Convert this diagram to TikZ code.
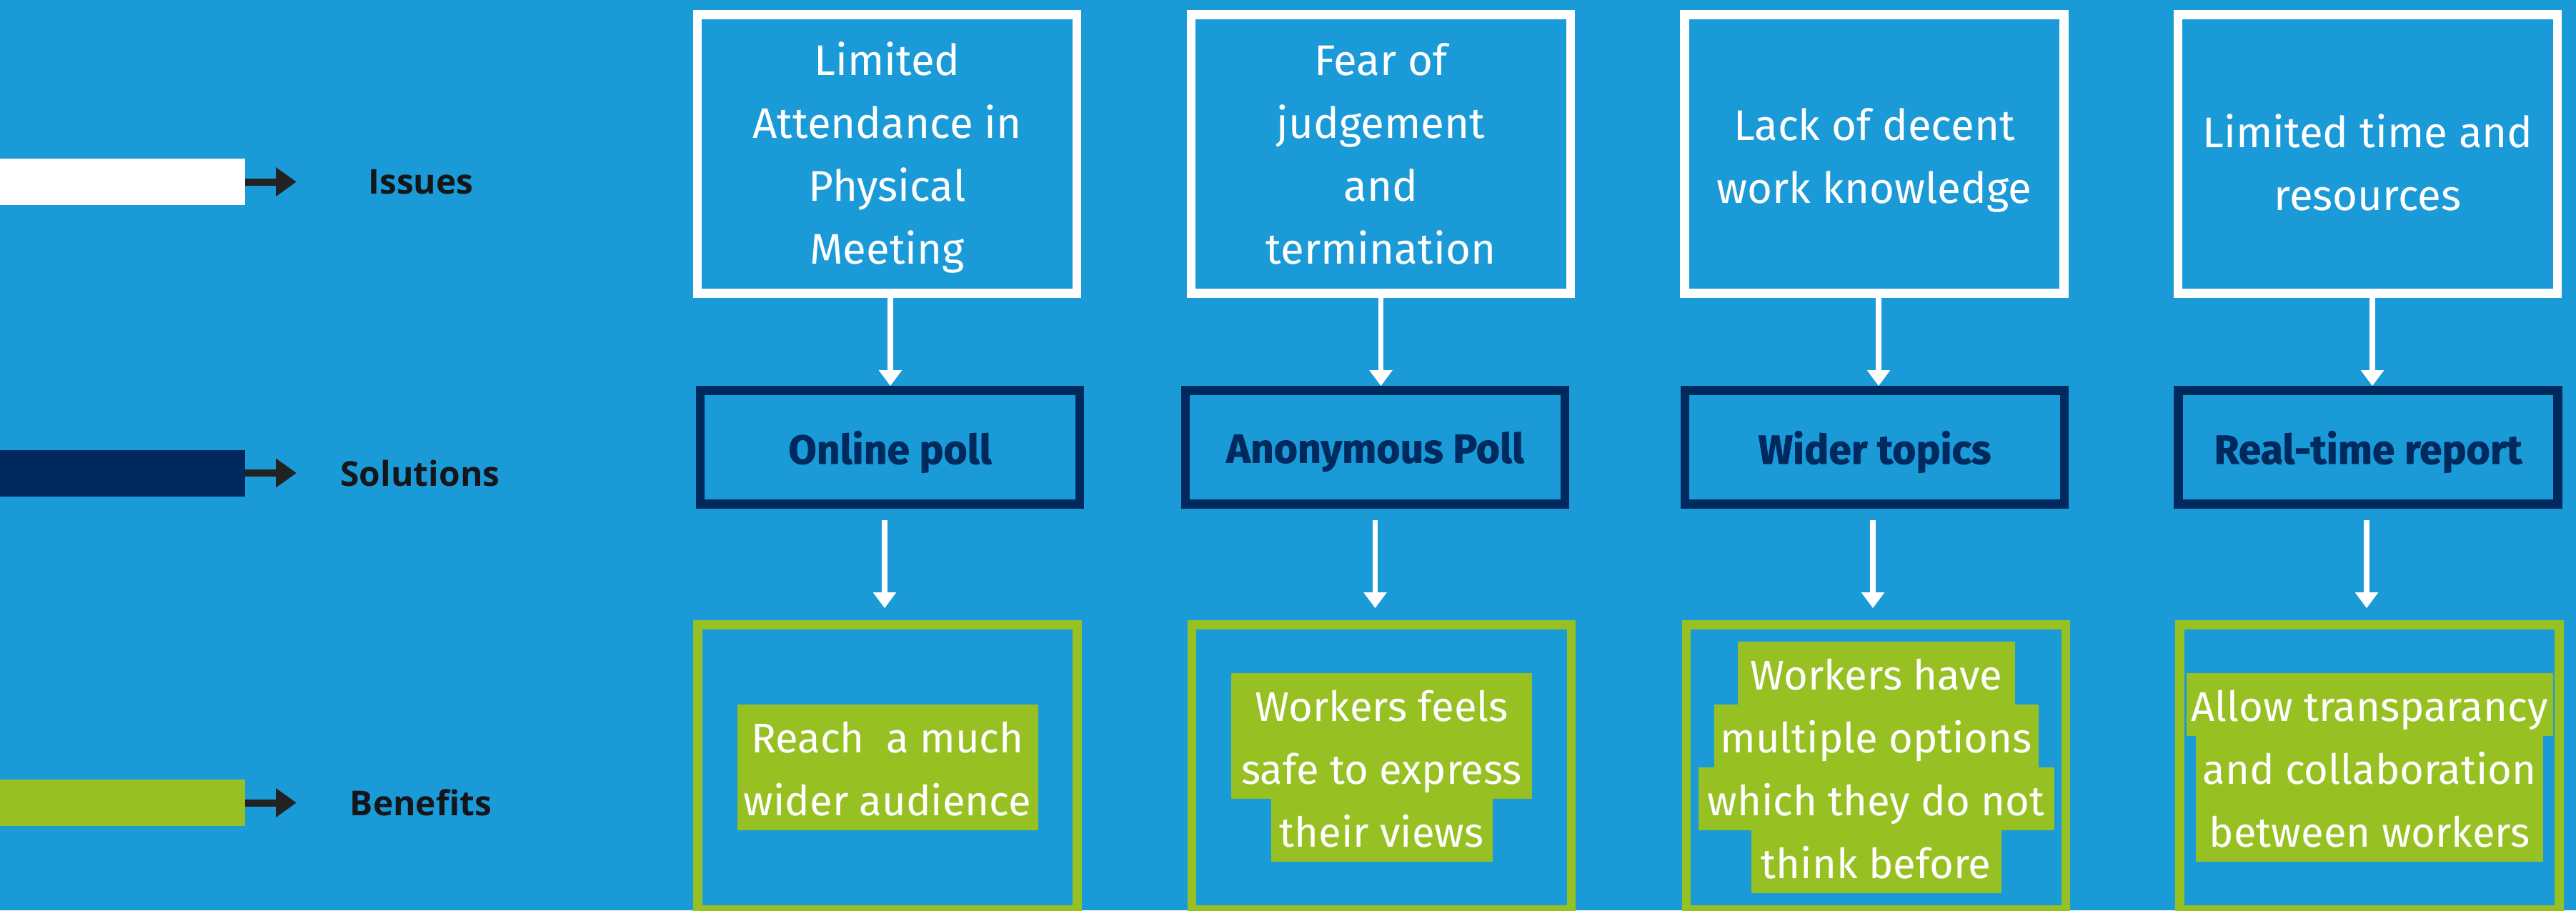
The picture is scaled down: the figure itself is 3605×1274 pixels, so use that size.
\documentclass[tikz,border=0pt]{standalone}
\usepackage{fontspec}
\setmainfont{Fira Sans}
\newfontfamily\labelfont{Open Sans}
\newfontfamily\solfont{Fira Sans}[BoldFeatures={FakeBold=1.2}]
\usetikzlibrary{arrows.meta}

\definecolor{bgblue}{RGB}{27,154,216}
\definecolor{navyline}{RGB}{0,41,94}
\definecolor{benegreen}{RGB}{151,192,35}
\definecolor{darkarrow}{RGB}{34,34,34}
\definecolor{labeltext}{RGB}{20,22,26}

% one highlighted line of a benefit, and a stack of such lines
\newcommand{\hl}[2]{{\setlength{\fboxsep}{0pt}\colorbox{benegreen}{\makebox[#1pt]{\rule[-21pt]{0pt}{88pt}#2}}}}
\newcommand{\hlstack}[1]{\vbox{\offinterlineskip\halign{\hfil##\hfil\cr#1\crcr}}}

\tikzset{
  issuebox/.style={draw=white, line width=12.7pt, minimum width=531pt, minimum height=390pt, inner sep=0pt},
  issuetext/.style={text=white, align=center, inner sep=0pt, font=\fontsize{60}{88}\selectfont},
  solbox/.style={draw=navyline, line width=12.7pt, minimum width=531pt, minimum height=159pt, inner sep=0pt,
    text depth=0pt, text=navyline, font=\solfont\fontsize{57}{68}\selectfont\bfseries},
  benebox/.style={draw=benegreen, line width=12.7pt, minimum width=531pt, minimum height=399pt, inner sep=0pt,
    text=white, font=\fontsize{58}{88}\selectfont},
  legbar/.style={minimum width=343pt, minimum height=65pt, inner sep=0pt},
  leglabel/.style={text=labeltext, font=\labelfont\fontsize{48}{58}\selectfont\bfseries},
  legarrow/.style={draw=darkarrow, line width=10pt, -{Triangle[width=39pt,length=29pt]}},
  flow/.style={draw=white, line width=7.5pt, -{Triangle[width=31pt,length=22pt]}}
}

\begin{document}
\begin{tikzpicture}[x=1pt,y=-1pt]
\useasboundingbox (0,0) rectangle (3605,1274);
\clip (0,0) rectangle (3605,1274);
\fill[bgblue] (0,0) rectangle (3605,1274);

% legend
\node[legbar, fill=white] (issbar) at (171.5,254.5) {};
\node[legbar, fill=navyline] (solbar) at (171.5,662) {};
\node[legbar, fill=benegreen] (benbar) at (171.5,1123.5) {};
\coordinate (issend) at (415,254.5);
\coordinate (solend) at (415,662);
\coordinate (benend) at (415,1123.5);
\draw[legarrow] (issbar.east) -- (issend);
\draw[legarrow] (solbar.east) -- (solend);
\draw[legarrow] (benbar.east) -- (benend);
\node[leglabel] (isslab) at (589,255) {Issues};
\node[leglabel] (sollab) at (588,662) {Solutions};
\node[leglabel] (benlab) at (589,1123) {Benefits};

% issues
\node[issuebox] (iss1) at (1241.5,215.5) {};
\node[issuebox] (iss2) at (1932.5,215.5) {};
\node[issuebox] (iss3) at (2623,215.5) {};
\node[issuebox] (iss4) at (3313.5,215.5) {};
\node[issuetext] (isstext1) at ([yshift=-4.5pt]iss1.center) {Limited\\Attendance in\\Physical\\Meeting};
\node[issuetext] (isstext2) at (iss2.center) {Fear of\\judgement\\and\\termination};
\node[issuetext] (isstext3) at ([yshift=-9pt]iss3.center) {Lack of decent\\work knowledge};
\node[issuetext] (isstext4) at ([yshift=-11.5pt]iss4.center) {Limited time and\\resources};

% solutions
\node[solbox] (sol1) at (1245.5,626) {Online poll};
\node[solbox] (sol2) at (1924.5,626) {Anonymous Poll};
\node[solbox] (sol3) at (2623.5,626) {Wider topics};
\node[solbox] (sol4) at (3314,626) {Real-time report};

% benefits
\node[benebox] (ben1) at (1242,1074) {\hlstack{\hl{421}{Reach\ \ a much}\cr\hl{421}{wider audience}}};
\node[benebox] (ben2) at (1933.5,1074) {\hlstack{\hl{421}{Workers feels}\cr\hl{421}{safe to express}\cr\hl{310}{their views}}};
\node[benebox] (ben3) at (2625.5,1074) {\hlstack{\hl{388}{Workers have}\cr\hl{454}{multiple options}\cr\hl{498}{which they do not}\cr\hl{350}{think before}}};
\node[benebox] (ben4) at (3316,1074) {\hlstack{\hl{513}{Allow transparancy}\cr\hl{486}{and collaboration}\cr\hl{486}{between workers}}};

\foreach \i/\da/\db in {1/4.5/-7.5, 2/0/0, 3/6/-2.5, 4/6.5/-2} {
  \draw[flow] ([xshift=\da pt]iss\i.south) -- ([xshift=\da pt]iss\i.south |- sol\i.north);
  \draw[flow, shorten <=16pt, shorten >=17pt] ([xshift=\db pt]sol\i.south) -- ([xshift=\db pt]sol\i.south |- ben\i.north);
}
\end{tikzpicture}
\end{document}
